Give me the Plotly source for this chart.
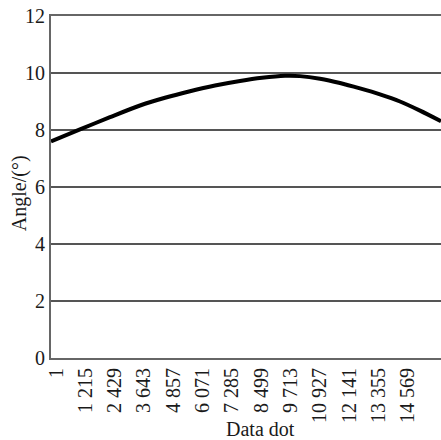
import plotly.graph_objects as go

# Sampled angle profile along the data dots
data_dot = [1, 1201, 2443, 3685, 4720, 5754, 6789, 7824, 8735, 9686, 10307,
            11135, 11963, 12790, 13618, 14446, 15274, 16143]
angle = [7.60, 8.02, 8.45, 8.86, 9.13, 9.36, 9.56, 9.72, 9.83, 9.90, 9.89,
         9.80, 9.65, 9.46, 9.25, 9.00, 8.68, 8.31]

x_tick_vals = [1, 1215, 2429, 3643, 4857, 6071, 7285, 8499, 9713, 10927, 12141, 13355, 14569]
x_tick_text = ["1", "1 215", "2 429", "3 643", "4 857", "6 071", "7 285", "8 499",
               "9 713", "10 927", "12 141", "13 355", "14 569"]
y_tick_vals = [0, 2, 4, 6, 8, 10, 12]

serif = "Times New Roman, Liberation Serif, serif"
ink = "#1a1a1a"

fig = go.Figure()
fig.add_trace(go.Scatter(
    x=data_dot, y=angle, mode="lines",
    line=dict(color="black", width=4, shape="spline", smoothing=0.8),
    showlegend=False, cliponaxis=True,
))

fig.update_layout(
    width=441, height=440,
    margin=dict(l=51, r=0, t=16, b=82),
    paper_bgcolor="white", plot_bgcolor="white",
    font=dict(family=serif, color=ink),
    annotations=[
        dict(text="Data dot", xref="paper", yref="paper", x=0.538, y=-0.2076,
             xanchor="center", yanchor="middle", showarrow=False,
             font=dict(size=20, family=serif, color=ink)),
        dict(text="Angle/(°)", xref="paper", yref="paper", x=-0.082, y=0.482,
             xanchor="center", yanchor="middle", textangle=-90, showarrow=False,
             font=dict(size=20, family=serif, color=ink)),
    ],
)

fig.update_xaxes(
    range=[1, 16143],
    tickmode="array", tickvals=x_tick_vals, ticktext=x_tick_text,
    tickangle=-90, tickfont=dict(size=20, family=serif, color=ink),
    ticklabelshift=5,
    showgrid=False, zeroline=False,
    showline=True, linecolor="#666", linewidth=2, mirror=True,
    ticks="",
)

fig.update_yaxes(
    range=[0, 12],
    tickmode="array", tickvals=y_tick_vals,
    tickfont=dict(size=20, family=serif, color=ink),
    showgrid=True, gridcolor="#555", gridwidth=1.5,
    zeroline=False,
    showline=True, linecolor="#666", linewidth=2,
    ticks="",
)

fig.write_html("out.html")
